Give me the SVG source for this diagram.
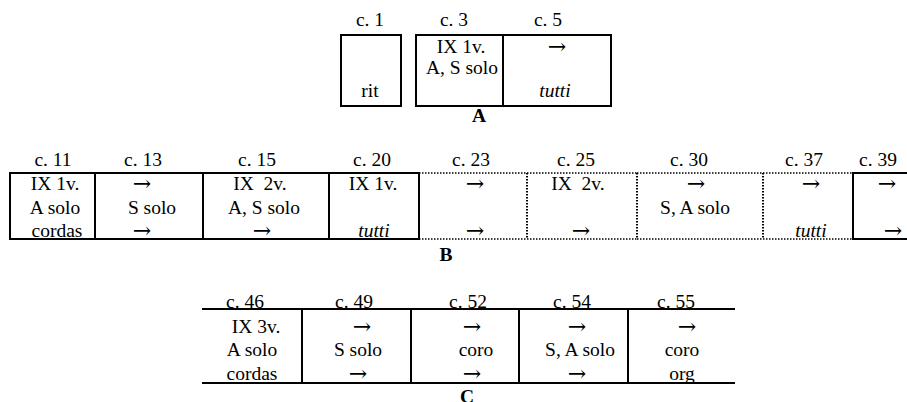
<svg xmlns="http://www.w3.org/2000/svg" width="907" height="402" viewBox="0 0 907 402">
<style>
text{font-family:"Liberation Serif","Times New Roman",serif;font-size:19.5px;fill:#000;text-anchor:middle;white-space:pre}
text.a{font-family:"DejaVu Serif","DejaVu Sans",serif;font-size:22px}
.i{font-style:italic}
.b{font-weight:bold}
.s{fill:none;stroke:#000;stroke-width:2}
.d{fill:none;stroke:#000;stroke-width:1.5;stroke-dasharray:1.5 1.5}
.dv{fill:none;stroke:#000;stroke-width:2;stroke-dasharray:1.5 1.5}
</style>
<rect width="907" height="402" fill="#fff"/>
<!-- Section A -->
<g id="sectionA">
  <g id="A-c1">
    <rect class="s" x="341" y="35" width="60" height="71"/>
    <text x="370" y="26">c. 1</text>
    <text x="370" y="97">rit</text>
  </g>
  <g id="A-c3">
    <path class="s" d="M416 35H503V106H416Z"/>
    <text x="454" y="26">c. 3</text>
    <text x="461" y="53">IX 1v.</text>
    <text x="462" y="74">A, S solo</text>
  </g>
  <g id="A-c5">
    <path class="s" d="M503 35H611V106H503Z"/>
    <text x="548" y="26">c. 5</text>
    <text class="a" x="557" y="54">→</text>
    <text class="i" x="555" y="97">tutti</text>
  </g>
  <text class="b" x="479" y="122">A</text>
</g>
<!-- Section B -->
<g id="sectionB">
  <g id="B-c11">
    <path class="s" d="M10 173H95V239H10Z"/>
    <text x="53" y="166">c. 11</text>
    <text x="55" y="190">IX 1v.</text>
    <text x="55" y="214">A solo</text>
    <text x="57" y="237">cordas</text>
  </g>
  <g id="B-c13">
    <path class="s" d="M95 173H203V239H95"/>
    <text x="143" y="166">c. 13</text>
    <text class="a" x="142" y="191">→</text>
    <text x="152" y="214">S solo</text>
    <text class="a" x="142" y="238">→</text>
  </g>
  <g id="B-c15">
    <path class="s" d="M203 173H329V239H203"/>
    <text x="257" y="166">c. 15</text>
    <text x="260" y="190">IX  2v.</text>
    <text x="264" y="214">A, S solo</text>
    <text class="a" x="262" y="238">→</text>
  </g>
  <g id="B-c20">
    <path class="s" d="M329 173H419V239H329"/>
    <text x="372" y="166">c. 20</text>
    <text x="373" y="190">IX 1v.</text>
    <text class="i" x="374" y="237">tutti</text>
  </g>
  <g id="B-c23">
    <path class="d" d="M419 173H527M419 239H527"/>
    <text x="471" y="166">c. 23</text>
    <text class="a" x="475" y="191">→</text>
    <text class="a" x="475" y="238">→</text>
  </g>
  <g id="B-c25">
    <path class="dv" d="M527 173V239"/>
    <path class="d" d="M527 173H637M527 239H637"/>
    <text x="576" y="166">c. 25</text>
    <text x="578" y="190">IX  2v.</text>
    <text class="a" x="581" y="238">→</text>
  </g>
  <g id="B-c30">
    <path class="dv" d="M637 173V239"/>
    <path class="d" d="M637 173H763M637 239H763"/>
    <text x="689" y="166">c. 30</text>
    <text class="a" x="696" y="191">→</text>
    <text x="695" y="214">S, A solo</text>
  </g>
  <g id="B-c37">
    <path class="dv" d="M763 173V239"/>
    <path class="d" d="M763 173H853M763 239H853"/>
    <text x="804" y="166">c. 37</text>
    <text class="a" x="811" y="191">→</text>
    <text class="i" x="811" y="237">tutti</text>
  </g>
  <g id="B-c39">
    <path class="s" d="M910 173H853V239H910"/>
    <text x="878" y="166">c. 39</text>
    <text class="a" x="887" y="191">→</text>
    <text class="a" x="893" y="238">→</text>
  </g>
  <text class="b" x="446" y="261">B</text>
</g>
<!-- Section C -->
<g id="sectionC">
  <g id="C-c46">
    <path class="s" d="M202 309H302V383H202M302 309V383"/>
    <text x="245" y="308">c. 46</text>
    <text x="256" y="333">IX 3v.</text>
    <text x="252" y="356">A solo</text>
    <text x="252" y="380">cordas</text>
  </g>
  <g id="C-c49">
    <path class="s" d="M302 309H411V383H302"/>
    <text x="354" y="308">c. 49</text>
    <text class="a" x="362" y="334">→</text>
    <text x="358" y="356">S solo</text>
    <text class="a" x="358" y="381">→</text>
  </g>
  <g id="C-c52">
    <path class="s" d="M411 309H519V383H411"/>
    <text x="468" y="308">c. 52</text>
    <text class="a" x="472" y="334">→</text>
    <text x="476" y="356">coro</text>
    <text class="a" x="472" y="381">→</text>
  </g>
  <g id="C-c54">
    <path class="s" d="M519 309H628V383H519"/>
    <text x="572" y="308">c. 54</text>
    <text class="a" x="577" y="334">→</text>
    <text x="580" y="356">S, A solo</text>
    <text class="a" x="577" y="381">→</text>
  </g>
  <g id="C-c55">
    <path class="s" d="M628 309H735M628 383H735"/>
    <text x="676" y="308">c. 55</text>
    <text class="a" x="687" y="334">→</text>
    <text x="682" y="356">coro</text>
    <text x="682" y="380">org</text>
  </g>
  <text class="b" x="467" y="403">C</text>
</g>
</svg>
